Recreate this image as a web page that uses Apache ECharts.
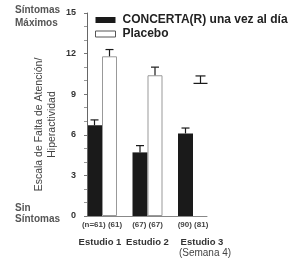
<!DOCTYPE html>
<html lang="es">
<head>
<meta charset="UTF-8">
<title>Escala de Falta de Atención</title>
<script src="https://cdn.jsdelivr.net/npm/echarts@6/dist/echarts.min.js"></script>
<style>
    html, body { margin: 0; padding: 0; background: #fff; }
    #main { width: 300px; height: 269px; }
</style>
</head>
<body>
<div id="main"></div>
<script type="text/javascript">
// datos
var estudios = ['Estudio 1', 'Estudio 2', 'Estudio 3'];
var muestras = ['(n=61) (61)', '(67) (67)', '(90) (81)'];
var notas = ['', '', '(Semana 4)'];
var concerta = [6.7, 4.7, 6.1];
var concertaErr = [0.4, 0.5, 0.4];
var placebo = [11.8, 10.4, 9.8];
var placeboErr = [0.5, 0.6, 0.55];
var placeboVisible = [true, true, false];

var FONT = 'Liberation Sans, Arial, sans-serif';
var BAR_W = 15;

var chart = echarts.init(document.getElementById('main'));

// barras de error: [categoria, valor, error, lado, hayBarra]
var errData = [];
estudios.forEach(function (e, i) {
    errData.push([i, concerta[i], concertaErr[i], -1, 1]);
    errData.push([i, placebo[i], placeboErr[i], 1, placeboVisible[i] ? 1 : 0]);
});

function renderErr(params, api) {
    var idx = api.value(0);
    var base = api.coord([idx, api.value(1)]);
    var top = api.coord([idx, api.value(1) + api.value(2)]);
    var x = base[0] + api.value(3) * BAR_W / 2;
    var hasBar = api.value(4) === 1;
    var style = { stroke: '#1a1a1a', lineWidth: 1.2 };
    var capTop = hasBar ? 4 : 5;
    var children = [
        { type: 'line', shape: { x1: x, y1: base[1], x2: x, y2: top[1] }, style: style },
        { type: 'line', shape: { x1: x - capTop, y1: top[1], x2: x + capTop, y2: top[1] }, style: style }
    ];
    if (!hasBar) {
        children.push({ type: 'line', shape: { x1: x - 7, y1: base[1], x2: x + 7, y2: base[1] }, style: style });
    }
    return { type: 'group', children: children };
}

chart.setOption({
    animation: false,
    textStyle: { fontFamily: FONT },
    legend: {
        orient: 'vertical',
        left: 90,
        top: 9,
        itemWidth: 20,
        itemHeight: 6,
        itemGap: 2,
        icon: 'rect',
        textStyle: { fontSize: 12, fontWeight: 'bold', color: '#222', padding: [0, 0, 0, 2] },
        data: [
            { name: 'CONCERTA(R) una vez al día' },
            { name: 'Placebo', itemStyle: { color: '#fff', borderColor: '#555', borderWidth: 1 } }
        ]
    },
    graphic: [
        { type: 'text', left: 15, top: 4, style: { text: 'Síntomas\nMáximos', font: 'bold 10px ' + FONT, lineHeight: 12.5, fill: '#555' } },
        { type: 'text', left: 15, top: 202, style: { text: 'Sin\nSíntomas', font: 'bold 10px ' + FONT, lineHeight: 11.5, fill: '#555' } }
    ],
    grid: [
        { left: 87, top: 13, width: 120, height: 203 },
        { left: 79.25, top: 13, width: 136.5, height: 203 }
    ],
    xAxis: [
        {
            gridIndex: 0, type: 'value', min: 0, max: 1, z: 5,
            axisLine: { show: true, lineStyle: { color: '#888', width: 1 } },
            axisTick: { show: false }, axisLabel: { show: false }, splitLine: { show: false }
        },
        {
            gridIndex: 1, type: 'category', data: estudios,
            axisLine: { show: false }, axisTick: { show: false },
            axisLabel: {
                margin: 0,
                interval: 0,
                formatter: function (v, i) {
                    var s = '{n|' + muestras[i] + '}\n{e' + i + '|' + v + '}';
                    if (notas[i]) s += '\n{w|' + notas[i] + '}';
                    return s;
                },
                rich: {
                    n: { fontSize: 8, fontWeight: 'bold', color: '#444', lineHeight: 18 },
                    e0: { fontSize: 9.5, fontWeight: 'bold', color: '#333', lineHeight: 16, padding: [0, 4, 0, 0] },
                    e1: { fontSize: 9.5, fontWeight: 'bold', color: '#333', lineHeight: 16 },
                    e2: { fontSize: 9.5, fontWeight: 'bold', color: '#333', lineHeight: 16, padding: [0, 0, 0, 18] },
                    w: { fontSize: 10, color: '#444', lineHeight: 6, padding: [0, 0, 0, 24] }
                }
            }
        }
    ],
    yAxis: [
        {
            gridIndex: 0, type: 'value', min: 0, max: 15, interval: 3, z: 5,
            name: 'Escala de Falta de Atención/\nHiperactividad',
            nameLocation: 'middle',
            nameRotate: 90,
            nameGap: 28,
            nameTextStyle: { fontSize: 10.5, color: '#444', lineHeight: 13, padding: [0, 20, 0, 0] },
            axisLine: { show: true, lineStyle: { color: '#666', width: 1 } },
            axisTick: { show: true, length: 3, lineStyle: { color: '#777' } },
            minorTick: { show: true, splitNumber: 3, length: 3, lineStyle: { color: '#999' } },
            axisLabel: { fontSize: 9, fontWeight: 'bold', color: '#333', margin: 11 },
            splitLine: { show: false }
        },
        {
            gridIndex: 1, type: 'value', min: 0, max: 15, show: false
        }
    ],
    series: [
        {
            name: 'CONCERTA(R) una vez al día',
            type: 'bar',
            xAxisIndex: 1, yAxisIndex: 1,
            barWidth: BAR_W,
            barGap: '0%',
            itemStyle: { color: '#1a1a1a' },
            data: concerta
        },
        {
            name: 'Placebo',
            type: 'bar',
            xAxisIndex: 1, yAxisIndex: 1,
            barWidth: BAR_W,
            barGap: '0%',
            itemStyle: { color: '#fff', borderColor: '#999', borderWidth: 1 },
            data: placebo.map(function (v, i) {
                return placeboVisible[i] ? v : { value: v, itemStyle: { borderColor: 'rgba(0,0,0,0)' } };
            })
        },
        {
            type: 'custom',
            xAxisIndex: 1, yAxisIndex: 1,
            renderItem: renderErr,
            z: 6,
            data: errData
        }
    ]
});
</script>
</body>
</html>
